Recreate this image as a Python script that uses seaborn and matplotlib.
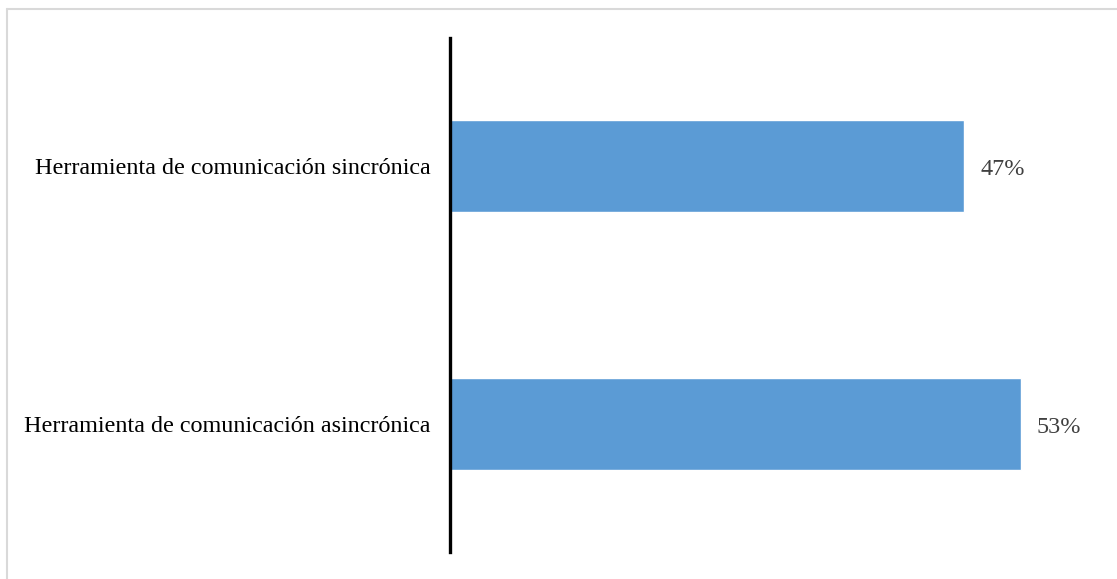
import matplotlib
matplotlib.use("Agg")
import matplotlib.pyplot as plt
import seaborn as sns
import pandas as pd
from matplotlib.lines import Line2D

categories = ["Herramienta de comunicación sincrónica",
              "Herramienta de comunicación asincrónica"]
values = [0.474, 0.526]
value_labels = ["47%", "53%"]

sns.set_theme(style="white")
plt.rcParams['font.family'] = ['Liberation Serif', 'DejaVu Serif']

df = pd.DataFrame({"cat": categories, "val": values})

fig = plt.figure(figsize=(11.17, 5.79), dpi=100)
ax = fig.add_axes([450/1117, 27/579, 651/1117, 514/579])

sns.barplot(data=df, x="val", y="cat", orient="h", color="#5B9BD5",
            saturation=1, width=0.356, ax=ax)

ax.set_xlim(0, 0.60)
ax.set_ylim(1.496, -0.496)
ax.set_xlabel("")
ax.set_ylabel("")
ax.set_xticks([])
for s in ["top", "right", "bottom"]:
    ax.spines[s].set_visible(False)
ax.spines["left"].set_linewidth(2.4)
ax.spines["left"].set_color("black")
ax.tick_params(axis="y", length=0, pad=14, labelsize=17.4, labelcolor="black")

for i, (v, lab) in enumerate(zip(values, value_labels)):
    ax.text(v + 0.0145, i + 0.012, lab, va="center", ha="left", fontsize=17.4, color="#404040")

# outer frame (only left and top edges visible in the reference)
fx0, fy_top = 6.5/1117, 1 - 8.5/579
fig.add_artist(Line2D([fx0, fx0], [0, fy_top], transform=fig.transFigure,
                      color="#D9D9D9", linewidth=1.5))
fig.add_artist(Line2D([fx0, 1], [fy_top, fy_top], transform=fig.transFigure,
                      color="#D9D9D9", linewidth=1.5))

fig.savefig("out.png", dpi=100, facecolor="white")
